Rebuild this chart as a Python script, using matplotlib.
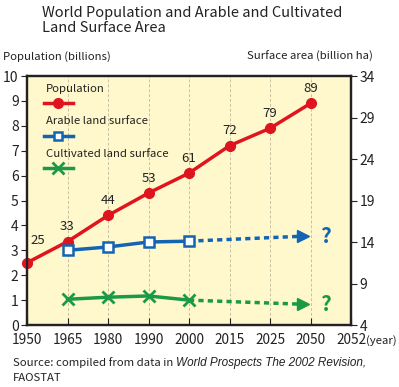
import numpy as np
import matplotlib.pyplot as plt
from matplotlib.lines import Line2D

plt.rcParams['font.family'] = ['Noto Sans CJK JP', 'DejaVu Sans']

""" Data """
years = ["1950", "1965", "1980", "1990", "2000", "2015", "2025", "2050", "2052"]
pop_years = ["1950", "1965", "1980", "1990", "2000", "2015", "2025", "2050"]
population = [2.5, 3.35, 4.4, 5.3, 6.1, 7.2, 7.9, 8.9]
pop_labels = ["25", "33", "44", "53", "61", "72", "79", "89"]
land_years = ["1965", "1980", "1990", "2000"]
arable = [13.0, 13.4, 14.0, 14.1]
cultivated = [7.1, 7.35, 7.5, 7.0]
arable_proj = [14.1, 14.7]
cultivated_proj = [7.0, 6.5]

RED = "#e0141e"
BLUE = "#1464b4"
GREEN = "#1a9a46"
BG = "#fff8cc"
INK = "#222222"

pos = {y: i for i, y in enumerate(years)}
px = [pos[y] for y in pop_years]
lx = [pos[y] for y in land_years]
proj_x = [pos["2000"], 6.82]

fig = plt.figure(figsize=(3.99, 3.87), dpi=100)
ax = fig.add_axes([0.0677, 0.1602, 0.812, 0.6434])
ax.set_facecolor(BG)
ax2 = ax.twinx()

ax.set_xlim(0, 8)
ax.set_ylim(0, 10)
ax2.set_ylim(4, 34)

for i in range(1, 8):
    ax.axvline(i, color="#c8c0a0", lw=0.7, ls=(0, (3, 2)), zorder=0)

ax.plot(px, population, color=RED, lw=2.5, marker="o", ms=7, zorder=5, clip_on=False)
for i, (x, v, t) in enumerate(zip(px, population, pop_labels)):
    dx, dy = (8, 11) if i == 0 else (0, 6)
    ax.annotate(t, (x, v), xytext=(dx, dy), textcoords="offset points",
                ha="center", va="bottom", fontsize=9.5, color=INK)

ax2.plot(lx, arable, color=BLUE, lw=2.5, marker="s", ms=6.5, mfc="white", mew=1.8, zorder=5)
ax2.plot(proj_x, arable_proj, color=BLUE, lw=2.5, ls=(0, (1.5, 1.2)), zorder=4)
ax2.plot(proj_x[-1], arable_proj[-1], color=BLUE, marker=">", ms=8, zorder=4)
ax2.plot(lx, cultivated, color=GREEN, lw=2.5, marker="x", ms=8, mew=2, zorder=5)
ax2.plot(proj_x, cultivated_proj, color=GREEN, lw=2.5, ls=(0, (1.5, 1.2)), zorder=4)
ax2.plot(proj_x[-1], cultivated_proj[-1], color=GREEN, marker=">", ms=8, zorder=4)
ax2.text(7.36, arable_proj[-1], "?", color=BLUE, fontsize=15, fontweight="bold", ha="center", va="center")
ax2.text(7.36, cultivated_proj[-1], "?", color=GREEN, fontsize=15, fontweight="bold", ha="center", va="center")

# legend
leg = [("Population", RED, dict(marker="o", ms=7)),
       ("Arable land surface", BLUE, dict(marker="s", ms=6, mfc="white", mew=1.8)),
       ("Cultivated land surface", GREEN, dict(marker="x", ms=8, mew=2))]
for k, (name, c, mk) in enumerate(leg):
    ty = 0.948 - k * 0.13
    ax.text(0.058, ty, name, transform=ax.transAxes, fontsize=8.2, color=INK, va="center")
    ax.add_line(Line2D([0.052, 0.096, 0.142], [ty - 0.058] * 3, transform=ax.transAxes,
                       color=c, lw=2.5, zorder=6, markevery=[1], **mk))

ax.set_xticks(range(len(years)))
ax.set_xticklabels(years)
ax.set_yticks(range(0, 11))
ax2.set_yticks(range(4, 35, 5))
ax.tick_params(axis="x", direction="in", length=5, labelsize=9.8, pad=5.5, colors=INK)
ax.tick_params(axis="y", direction="out", length=4, labelsize=10, pad=2, colors=INK)
ax2.tick_params(axis="y", direction="out", length=4, labelsize=10, pad=2, colors=INK)
for a in (ax, ax2):
    for s in a.spines.values():
        s.set_linewidth(1.6)
        s.set_color(INK)

fig.text(0.105, 0.985, "World Population and Arable and Cultivated\nLand Surface Area",
         fontsize=10.5, va="top", ha="left", color=INK, linespacing=1.15)
fig.text(0.008, 0.855, "Population (billions)", fontsize=8.2, color=INK, va="center")
fig.text(0.935, 0.855, "Surface area (billion ha)", fontsize=8.2, color=INK, va="center", ha="right")
fig.text(0.917, 0.121, "(year)", fontsize=8.2, color=INK, va="center")
t = fig.text(0.033, 0.062, "Source: compiled from data in ", fontsize=8.2, color=INK, va="center")
fig.text(0.033, 0.024, "FAOSTAT", fontsize=8.2, color=INK, va="center")
fig.canvas.draw()
bb = t.get_window_extent()
fig.text(bb.x1 / fig.bbox.width, 0.062, "World Prospects The 2002 Revision,", fontsize=8.5,
         family="Liberation Sans", style="italic", color=INK, va="center")

fig.savefig("out.png", dpi=100)
